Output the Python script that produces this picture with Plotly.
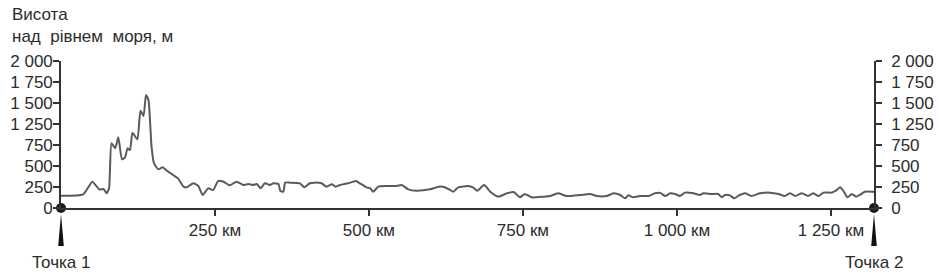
import plotly.graph_objects as go

# Distance along the route, km
distance_km = [0, 36, 51, 62, 69, 74, 78, 82, 88, 93, 99, 104, 108, 112, 116, 124, 129, 134, 138, 142,
               147, 151, 158, 165, 172, 182, 190, 199, 204, 215, 223, 230, 239, 247, 255, 264, 274, 285,
               296, 304, 312, 318, 324, 331, 339, 345, 353, 356, 361, 364, 372, 388, 395, 404, 412, 423,
               431, 440, 446, 453, 466, 479, 485, 496, 502, 507, 515, 529, 545, 553, 564, 577, 599, 615,
               623, 632, 637, 645, 661, 669, 676, 687, 697, 710, 724, 735, 745, 753, 764, 783, 794, 807,
               821, 843, 859, 870, 886, 897, 908, 916, 921, 929, 940, 954, 964, 973, 981, 989, 997, 1005,
               1013, 1027, 1037, 1043, 1056, 1067, 1073, 1078, 1086, 1093, 1102, 1111, 1121, 1135, 1151,
               1165, 1175, 1184, 1192, 1203, 1213, 1221, 1230, 1238, 1251, 1258, 1265, 1270, 1277, 1284,
               1291, 1297, 1305, 1318, 1320]
# Height in axis units (as drawn on the scale)
elevation = [146, 163, 313, 222, 226, 175, 234, 770, 710, 841, 580, 603, 710, 690, 896, 817, 1159, 1095, 1345, 1286,
             730, 532, 460, 484, 444, 393, 353, 254, 246, 294, 262, 155, 234, 214, 321, 313, 270, 313,
             274, 286, 274, 286, 234, 294, 274, 294, 286, 206, 194, 302, 302, 294, 246, 294, 302, 294,
             254, 282, 254, 274, 294, 321, 294, 246, 234, 194, 254, 262, 262, 274, 222, 206, 222, 255,
             248, 214, 194, 246, 262, 246, 206, 274, 194, 135, 175, 190, 127, 167, 127, 135, 143, 175,
             143, 155, 167, 143, 143, 175, 155, 115, 151, 127, 143, 143, 175, 180, 143, 175, 167, 143,
             183, 175, 155, 175, 167, 167, 127, 155, 151, 115, 155, 175, 143, 175, 183,
             167, 143, 175, 143, 175, 143, 175, 143, 183, 183, 206, 246, 206, 127, 167,
             135, 155, 194, 194, 194]

route_end_km = 1320
y_tick_vals = [0, 250, 500, 750, 1000, 1250, 1500, 1750]
y_tick_text = ["0", "250", "500", "750", "1\u00a0250", "1\u00a0500", "1\u00a0750", "2\u00a0000"]
x_tick_vals = [250, 500, 750, 1000, 1250]
x_tick_text = ["250 км", "500 км", "750 км", "1\u00a0000 км", "1\u00a0250 км"]
point_names = ["Точка 1", "Точка 2"]
point_km = [0, route_end_km]

FONT = "Liberation Sans, Arial, sans-serif"
FS = 17
TXT = "#2b2b2b"
AX = "#333333"

fig = go.Figure()
fig.add_trace(go.Scatter(x=distance_km, y=elevation, mode="lines",
                         line=dict(color="#5a5a5a", width=2, shape="spline", smoothing=0.5),
                         hoverinfo="skip", showlegend=False))
fig.add_trace(go.Scatter(x=point_km, y=[0, 0], mode="markers", yaxis="y2",
                         marker=dict(color="#1a1a1a", size=10), cliponaxis=False,
                         hoverinfo="skip", showlegend=False))

axis_common = dict(range=[0, 1750], tickvals=y_tick_vals, ticktext=y_tick_text,
                   ticks="outside", ticklen=6, tickwidth=1.5, tickcolor=AX,
                   showline=True, linecolor=AX, linewidth=1.6, showgrid=False, zeroline=False,
                   tickfont=dict(family=FONT, size=FS, color=TXT), fixedrange=True,
                   automargin=False)

fig.update_layout(
    width=940, height=276,
    margin=dict(l=61, r=66, t=61, b=68, autoexpand=False),
    paper_bgcolor="white", plot_bgcolor="white",
    xaxis=dict(range=[0, route_end_km], tickvals=x_tick_vals, ticktext=x_tick_text,
               ticks="outside", ticklen=6, tickwidth=1.5, tickcolor=AX,
               showline=True, linecolor=AX, linewidth=1.6, showgrid=False, zeroline=False,
               tickfont=dict(family=FONT, size=FS, color=TXT), fixedrange=True,
               automargin=False),
    yaxis=dict(side="left", ticklabelstandoff=-3, **axis_common),
    yaxis2=dict(side="right", overlaying="y", anchor="x", ticklabelstandoff=6, **axis_common),
    font=dict(family=FONT, size=FS, color=TXT),
)

# pointers below the two points
for xa in [0, 1]:
    fig.add_shape(type="path", xref="x domain", yref="y domain",
                  xsizemode="pixel", ysizemode="pixel", xanchor=xa, yanchor=0,
                  path="M 0 -6 L -2.8 -38 L 2.8 -38 Z",
                  fillcolor="#111111", line=dict(width=0))

for name, km in zip(point_names, point_km):
    fig.add_annotation(x=km, y=0, xref="x", yref="y", text=name, showarrow=False,
                       xanchor="center", yanchor="middle", yshift=-54,
                       font=dict(family=FONT, size=FS, color=TXT))

fig.add_annotation(xref="paper", yref="paper", x=-0.063, y=1.395, xanchor="left", yanchor="top",
                   align="left", showarrow=False,
                   text="Висота<br>над\u00a0 рівнем\u00a0 моря, м",
                   font=dict(family=FONT, size=FS, color=TXT))

fig.write_html("out.html")
